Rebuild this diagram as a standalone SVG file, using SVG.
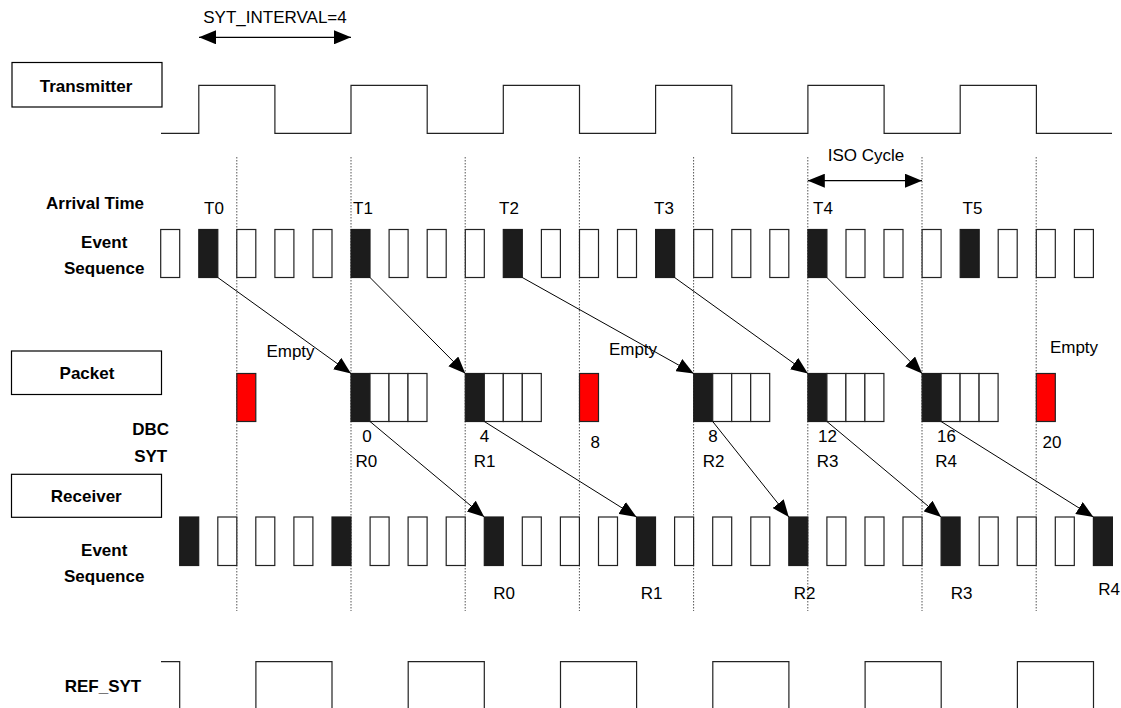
<svg xmlns="http://www.w3.org/2000/svg" width="1121" height="708" viewBox="0 0 1121 708">
<defs>
<marker id="ah" markerUnits="userSpaceOnUse" markerWidth="17" markerHeight="14" refX="17" refY="7" orient="auto-start-reverse">
<path d="M0,0 L17,7 L0,14 z" fill="#000"/>
</marker>
<style>
text{font-family:"Liberation Sans",Arial,sans-serif;font-size:17px;fill:#000}
.b{font-weight:bold}
.m{text-anchor:middle}
.box{fill:#fff;stroke:#000;stroke-width:1.2}
.e{fill:#fff;stroke:#222;stroke-width:1.2}
.f{fill:#1c1c1c;stroke:#1c1c1c;stroke-width:1.2}
.r{fill:#ff0000;stroke:#222;stroke-width:1.2}
.w{fill:none;stroke:#222;stroke-width:1.2}
.d{stroke:#555;stroke-width:1;stroke-dasharray:1.5 1.5}
.c{stroke:#000;stroke-width:1;fill:none;marker-end:url(#ah)}
</style>
</defs>
<rect width="1121" height="708" fill="#fff"/>

<g id="gridlines">
<line class="d" x1="236.8" y1="157" x2="236.8" y2="611"/>
<line class="d" x1="351.0" y1="157" x2="351.0" y2="611"/>
<line class="d" x1="465.2" y1="157" x2="465.2" y2="611"/>
<line class="d" x1="579.4" y1="157" x2="579.4" y2="611"/>
<line class="d" x1="693.6" y1="157" x2="693.6" y2="611"/>
<line class="d" x1="807.8" y1="157" x2="807.8" y2="611"/>
<line class="d" x1="922.0" y1="157" x2="922.0" y2="611"/>
<line class="d" x1="1036.2" y1="157" x2="1036.2" y2="611"/>
</g>

<g id="syt-interval">
<line x1="199" y1="37.3" x2="351" y2="37.3" stroke="#000" stroke-width="1.2" marker-start="url(#ah)" marker-end="url(#ah)"/>
<text class="m" x="275" y="22.7">SYT_INTERVAL=4</text>
</g>

<g id="transmitter">
<rect class="box" x="12" y="62.5" width="150" height="44.5"/>
<text class="b m" x="86" y="91.7">Transmitter</text>
<path class="w" d="M161,133.3 H198.8 V85.3 H274.9 V133.3 H351 V85.3 H427.2 V133.3 H503.3 V85.3 H579.5 V133.3 H655.6 V85.3 H731.8 V133.3 H807.9 V85.3 H884.1 V133.3 H960.2 V85.3 H1036.4 V133.3 H1112"/>
</g>

<g id="iso-cycle">
<line x1="807.8" y1="180.7" x2="922" y2="180.7" stroke="#000" stroke-width="1.2" marker-start="url(#ah)" marker-end="url(#ah)"/>
<text class="m" x="866" y="160.7">ISO Cycle</text>
</g>

<g id="arrival-labels">
<text class="b m" x="95" y="209.3">Arrival Time</text>
<text x="204" y="213.5">T0</text>
<text x="353" y="213.5">T1</text>
<text x="499" y="213.5">T2</text>
<text x="654" y="213.5">T3</text>
<text x="813" y="213.5">T4</text>
<text x="962.5" y="213.5">T5</text>
</g>

<g id="tx-event-sequence">
<text class="b m" x="104.2" y="248.3">Event</text>
<text class="b m" x="104.2" y="274.3">Sequence</text>
<rect class="e" x="160.7" y="229.5" width="19" height="48"/>
<rect class="f" x="198.8" y="229.5" width="19" height="48"/>
<rect class="e" x="236.8" y="229.5" width="19" height="48"/>
<rect class="e" x="274.9" y="229.5" width="19" height="48"/>
<rect class="e" x="313.0" y="229.5" width="19" height="48"/>
<rect class="f" x="351.0" y="229.5" width="19" height="48"/>
<rect class="e" x="389.1" y="229.5" width="19" height="48"/>
<rect class="e" x="427.2" y="229.5" width="19" height="48"/>
<rect class="e" x="465.3" y="229.5" width="19" height="48"/>
<rect class="f" x="503.3" y="229.5" width="19" height="48"/>
<rect class="e" x="541.4" y="229.5" width="19" height="48"/>
<rect class="e" x="579.5" y="229.5" width="19" height="48"/>
<rect class="e" x="617.5" y="229.5" width="19" height="48"/>
<rect class="f" x="655.6" y="229.5" width="19" height="48"/>
<rect class="e" x="693.7" y="229.5" width="19" height="48"/>
<rect class="e" x="731.8" y="229.5" width="19" height="48"/>
<rect class="e" x="769.8" y="229.5" width="19" height="48"/>
<rect class="f" x="807.9" y="229.5" width="19" height="48"/>
<rect class="e" x="846.0" y="229.5" width="19" height="48"/>
<rect class="e" x="884.0" y="229.5" width="19" height="48"/>
<rect class="e" x="922.1" y="229.5" width="19" height="48"/>
<rect class="f" x="960.2" y="229.5" width="19" height="48"/>
<rect class="e" x="998.2" y="229.5" width="19" height="48"/>
<rect class="e" x="1036.3" y="229.5" width="19" height="48"/>
<rect class="e" x="1074.4" y="229.5" width="19" height="48"/>
</g>

<g id="packet">
<rect class="box" x="11.5" y="351" width="150" height="43.5"/>
<text class="b m" x="87" y="379.3">Packet</text>
<text class="m" x="290.5" y="357.3">Empty</text>
<text class="m" x="633" y="355">Empty</text>
<text class="m" x="1074" y="353.3">Empty</text>
<rect class="r" x="236.8" y="373.5" width="19" height="48"/>
<rect class="r" x="579.5" y="373.5" width="19" height="48"/>
<rect class="r" x="1036.3" y="373.5" width="19" height="48"/>
</g>

<g id="packet-0">
<rect class="f" x="351.0" y="373.5" width="19" height="48"/>
<rect class="e" x="370.0" y="373.5" width="19" height="48"/>
<rect class="e" x="389.0" y="373.5" width="19" height="48"/>
<rect class="e" x="408.0" y="373.5" width="19" height="48"/>
</g>
<g id="packet-4">
<rect class="f" x="465.3" y="373.5" width="19" height="48"/>
<rect class="e" x="484.3" y="373.5" width="19" height="48"/>
<rect class="e" x="503.3" y="373.5" width="19" height="48"/>
<rect class="e" x="522.3" y="373.5" width="19" height="48"/>
</g>
<g id="packet-8">
<rect class="f" x="693.7" y="373.5" width="19" height="48"/>
<rect class="e" x="712.7" y="373.5" width="19" height="48"/>
<rect class="e" x="731.7" y="373.5" width="19" height="48"/>
<rect class="e" x="750.7" y="373.5" width="19" height="48"/>
</g>
<g id="packet-12">
<rect class="f" x="807.9" y="373.5" width="19" height="48"/>
<rect class="e" x="826.9" y="373.5" width="19" height="48"/>
<rect class="e" x="845.9" y="373.5" width="19" height="48"/>
<rect class="e" x="864.9" y="373.5" width="19" height="48"/>
</g>
<g id="packet-16">
<rect class="f" x="922.1" y="373.5" width="19" height="48"/>
<rect class="e" x="941.1" y="373.5" width="19" height="48"/>
<rect class="e" x="960.1" y="373.5" width="19" height="48"/>
<rect class="e" x="979.1" y="373.5" width="19" height="48"/>
</g>

<g id="dbc-syt">
<text class="b m" x="150.7" y="435">DBC</text>
<text class="b m" x="150.7" y="461.7">SYT</text>
<text class="m" x="367" y="441.7">0</text>
<text class="m" x="484.5" y="441.7">4</text>
<text class="m" x="595.2" y="448.3">8</text>
<text class="m" x="713" y="441.7">8</text>
<text class="m" x="827.4" y="441.7">12</text>
<text class="m" x="946.5" y="441.7">16</text>
<text class="m" x="1052" y="448.3">20</text>
<text class="m" x="366.4" y="466.7">R0</text>
<text class="m" x="484.5" y="466.7">R1</text>
<text class="m" x="713.6" y="466.7">R2</text>
<text class="m" x="827.5" y="466.7">R3</text>
<text class="m" x="946" y="466.7">R4</text>
</g>

<g id="receiver">
<rect class="box" x="11.5" y="474.3" width="150" height="43"/>
<text class="b m" x="86.3" y="501.7">Receiver</text>
</g>

<g id="rx-event-sequence">
<text class="b m" x="104.2" y="555.7">Event</text>
<text class="b m" x="104.2" y="581.7">Sequence</text>
<rect class="f" x="179.7" y="517" width="19" height="48.5"/>
<rect class="e" x="217.8" y="517" width="19" height="48.5"/>
<rect class="e" x="255.8" y="517" width="19" height="48.5"/>
<rect class="e" x="293.9" y="517" width="19" height="48.5"/>
<rect class="f" x="332.0" y="517" width="19" height="48.5"/>
<rect class="e" x="370.1" y="517" width="19" height="48.5"/>
<rect class="e" x="408.1" y="517" width="19" height="48.5"/>
<rect class="e" x="446.2" y="517" width="19" height="48.5"/>
<rect class="f" x="484.3" y="517" width="19" height="48.5"/>
<rect class="e" x="522.3" y="517" width="19" height="48.5"/>
<rect class="e" x="560.4" y="517" width="19" height="48.5"/>
<rect class="e" x="598.5" y="517" width="19" height="48.5"/>
<rect class="f" x="636.5" y="517" width="19" height="48.5"/>
<rect class="e" x="674.6" y="517" width="19" height="48.5"/>
<rect class="e" x="712.7" y="517" width="19" height="48.5"/>
<rect class="e" x="750.8" y="517" width="19" height="48.5"/>
<rect class="f" x="788.8" y="517" width="19" height="48.5"/>
<rect class="e" x="826.9" y="517" width="19" height="48.5"/>
<rect class="e" x="865.0" y="517" width="19" height="48.5"/>
<rect class="e" x="903.0" y="517" width="19" height="48.5"/>
<rect class="f" x="941.1" y="517" width="19" height="48.5"/>
<rect class="e" x="979.2" y="517" width="19" height="48.5"/>
<rect class="e" x="1017.2" y="517" width="19" height="48.5"/>
<rect class="e" x="1055.3" y="517" width="19" height="48.5"/>
<rect class="f" x="1093.4" y="517" width="19" height="48.5"/>
<text class="m" x="504.2" y="599.3">R0</text>
<text class="m" x="651.7" y="599.3">R1</text>
<text class="m" x="804.5" y="599.3">R2</text>
<text class="m" x="961.5" y="599.3">R3</text>
<text class="m" x="1109" y="595">R4</text>
</g>

<g id="ref-syt">
<text class="b m" x="103" y="691.7">REF_SYT</text>
<path class="w" d="M161,661.7 H179.7 V720 M255.9,720 V661.7 H332 V720 M408.2,720 V661.7 H484.3 V720 M560.5,720 V661.7 H636.6 V720 M712.8,720 V661.7 H788.9 V720 M865.1,720 V661.7 H941.2 V720 M1017.4,720 V661.7 H1093.5 V720"/>
</g>

<g id="connectors">
<line class="c" x1="217.8" y1="277.5" x2="351.0" y2="373.5"/>
<line class="c" x1="370.0" y1="277.5" x2="465.3" y2="373.5"/>
<line class="c" x1="522.3" y1="277.5" x2="693.7" y2="373.5"/>
<line class="c" x1="674.6" y1="277.5" x2="807.9" y2="373.5"/>
<line class="c" x1="826.9" y1="277.5" x2="922.1" y2="373.5"/>
<line class="c" x1="370.0" y1="421.5" x2="484.3" y2="517"/>
<line class="c" x1="484.3" y1="421.5" x2="636.5" y2="517"/>
<line class="c" x1="712.7" y1="421.5" x2="788.8" y2="517"/>
<line class="c" x1="826.9" y1="421.5" x2="941.1" y2="517"/>
<line class="c" x1="941.1" y1="421.5" x2="1093.4" y2="517"/>
</g>
</svg>
